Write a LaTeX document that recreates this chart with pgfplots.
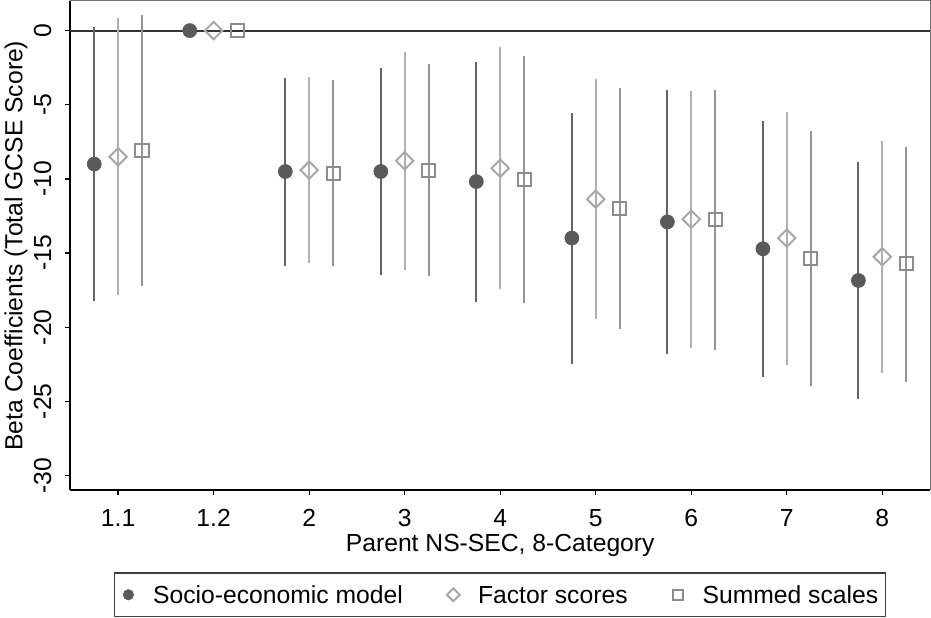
\documentclass[border=0pt]{standalone}
\usepackage{pgfplots}
\pgfplotsset{compat=1.18}
\usepackage{pgfplotstable}
\usepackage{fontspec}
\setmainfont{Liberation Sans}

\definecolor{cSEM}{RGB}{90,90,90}
\definecolor{cSEMci}{RGB}{100,100,100}
\definecolor{cFAC}{RGB}{168,168,168}
\definecolor{cFACci}{RGB}{176,176,176}
\definecolor{cSUM}{RGB}{140,140,140}
\definecolor{cSUMci}{RGB}{148,148,148}

% i = category index, b = coefficient, lo/hi = 95% CI
\pgfplotstableread{
i b lo hi
0 -9.00 -18.26 0.25
1 0 0 0
2 -9.50 -15.90 -3.18
3 -9.50 -16.46 -2.52
4 -10.18 -18.29 -2.09
5 -13.99 -22.48 -5.54
6 -12.90 -21.82 -4.03
7 -14.71 -23.38 -6.10
8 -16.85 -24.86 -8.85
}\semtab
\pgfplotstableread{
i b lo hi
0 -8.51 -17.86 0.88
1 0 0 0
2 -9.41 -15.68 -3.13
3 -8.78 -16.13 -1.47
4 -9.28 -17.43 -1.13
5 -11.37 -19.46 -3.24
6 -12.72 -21.40 -4.08
7 -13.99 -22.57 -5.50
8 -15.25 -23.11 -7.43
}\factab
\pgfplotstableread{
i b lo hi
0 -8.09 -17.20 1.06
1 0 0 0
2 -9.62 -15.86 -3.36
3 -9.41 -16.58 -2.23
4 -10.05 -18.38 -1.69
5 -12.00 -20.14 -3.87
6 -12.75 -21.51 -3.99
7 -15.38 -23.96 -6.80
8 -15.72 -23.67 -7.84
}\sumtab

\begin{document}
\begin{tikzpicture}[font=\fontsize{18.5}{22}\selectfont]
\begin{axis}[
  scale only axis,
  width=644.25pt, height=366.75pt,
  xmin=-0.5, xmax=8.5, ymin=-31, ymax=2,
  axis lines*=left,
  axis line style={black, line width=1.4pt},
  xtick={0,...,8},
  xticklabels={1.1,1.2,2,3,4,5,6,7,8},
  ytick={-30,-25,-20,-15,-10,-5,0},
  yticklabels={-30,-25,-20,-15,-10,-5,0},
  tick align=outside,
  major tick length=3.75pt,
  tick style={black, line width=1pt},
  xticklabel style={anchor=base, yshift=-23pt},
  yticklabel style={rotate=90, anchor=base, yshift=10.75pt},
  xlabel={Parent NS-SEC, 8-Category},
  xlabel style={at={(rel axis cs:0.5,0)}, anchor=base, yshift=-45.75pt},
  ylabel={Beta Coefficients (Total GCSE Score)},
  ylabel style={at={(rel axis cs:0,0.5)}, anchor=base, yshift=36pt},
  clip=false,
  legend columns=3,
  legend style={at={(0.5,0)}, anchor=north, yshift=-61.5pt,
    draw=black!75, line width=1.1pt, inner xsep=5.6pt, inner ysep=9.5pt,
    nodes={inner sep=0pt, text depth=0pt},
    /tikz/every even column/.append style={column sep=33pt}},
  legend image code/.code={%
    \path (-4.1pt,0) (18pt,0);
    \draw[#1, /tikz/every mark/.append style={scale=0.74}] plot coordinates {(0,0)};},
]
% reference line at zero
\addplot[forget plot, black!80, line width=1.4pt] coordinates {(-0.5,0) (8.5,0)};
% top and right frame
\draw[black!55, line width=0.8pt] (rel axis cs:0,1) -- (rel axis cs:1,1) -- (rel axis cs:1,0);

% confidence intervals
\addplot[forget plot, draw=none, mark=none,
  error bars/.cd, y dir=both, y explicit, error mark=none,
  error bar style={draw=cSEMci, line width=1.5pt}]
  table[x expr=\thisrow{i}-0.25, y=b,
        y error plus expr=\thisrow{hi}-\thisrow{b},
        y error minus expr=\thisrow{b}-\thisrow{lo}] {\semtab};
\addplot[forget plot, draw=none, mark=none,
  error bars/.cd, y dir=both, y explicit, error mark=none,
  error bar style={draw=cFACci, line width=1.5pt}]
  table[x=i, y=b,
        y error plus expr=\thisrow{hi}-\thisrow{b},
        y error minus expr=\thisrow{b}-\thisrow{lo}] {\factab};
\addplot[forget plot, draw=none, mark=none,
  error bars/.cd, y dir=both, y explicit, error mark=none,
  error bar style={draw=cSUMci, line width=1.5pt}]
  table[x expr=\thisrow{i}+0.25, y=b,
        y error plus expr=\thisrow{hi}-\thisrow{b},
        y error minus expr=\thisrow{b}-\thisrow{lo}] {\sumtab};

% point estimates
\addplot[only marks, mark=*, mark size=5.25pt,
  mark options={fill=cSEM, draw=cSEM, line width=0.5pt}]
  table[x expr=\thisrow{i}-0.25, y=b] {\semtab};
\addlegendentry{Socio-economic model}
\addplot[only marks, mark=square, mark size=4.6pt,
  mark options={rotate=45, fill=none, draw=cFAC, line width=1.5pt}]
  table[x=i, y=b] {\factab};
\addlegendentry{Factor scores}
\addplot[only marks, mark=square, mark size=4.9pt,
  mark options={fill=none, draw=cSUM, line width=1.5pt}]
  table[x expr=\thisrow{i}+0.25, y=b] {\sumtab};
\addlegendentry{Summed scales\hspace{8.5pt}}
\end{axis}
\end{tikzpicture}
\end{document}
